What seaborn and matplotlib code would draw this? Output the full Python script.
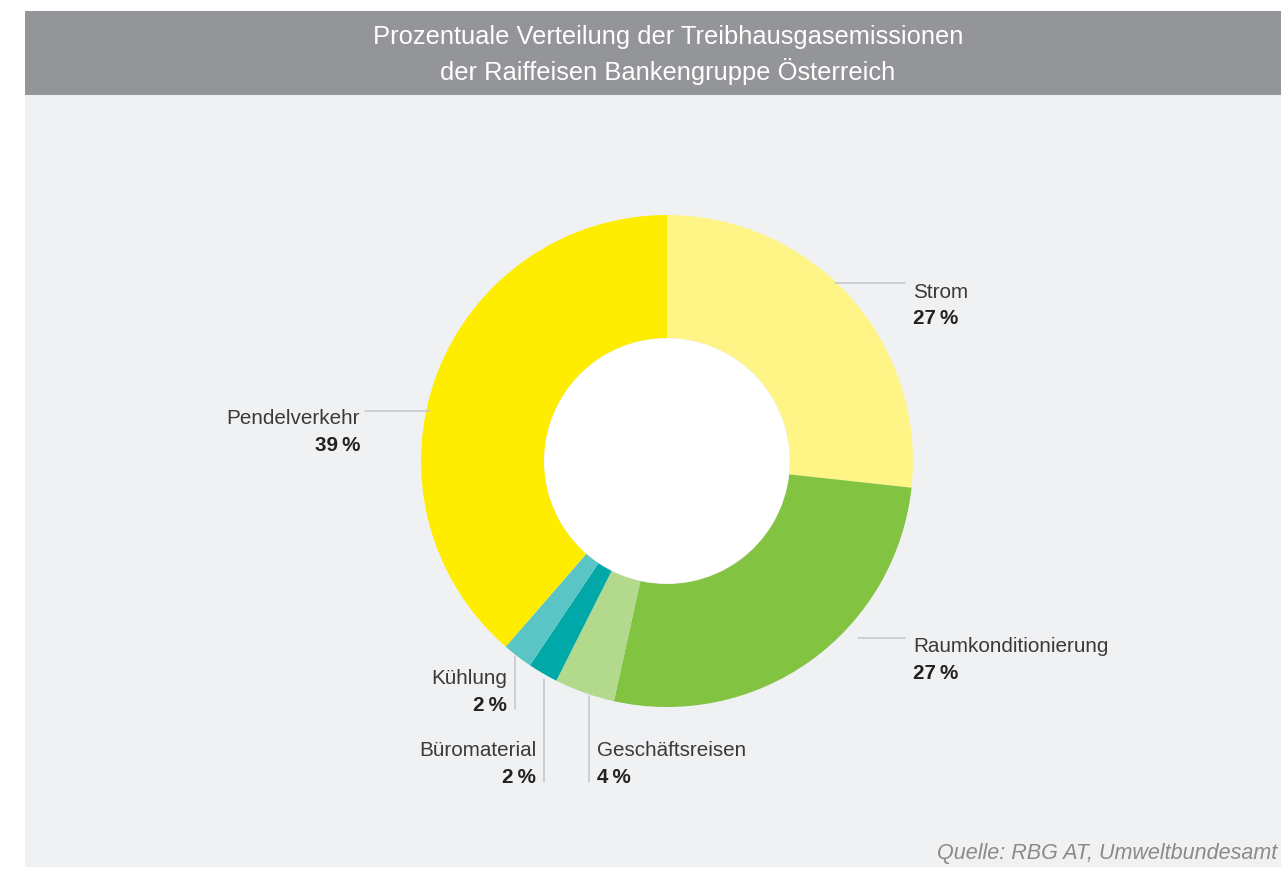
import matplotlib.pyplot as plt
import matplotlib.patches as mpatches
import numpy as np
import seaborn as sns

# Data
categories = ["Strom", "Raumkonditionierung", "Geschäftsreisen",
              "Büromaterial", "Kühlung", "Pendelverkehr"]
shares = [27, 27, 4, 2, 2, 39]
colors = ["#fff587", "#82c341", "#b3d98c", "#00a9a8", "#5bc5c6", "#ffed00"]

title = ("Prozentuale Verteilung der Treibhausgasemissionen\n"
         "der Raiffeisen Bankengruppe Österreich")
source = "Quelle: RBG AT, Umweltbundesamt"

# Layout (pixel coordinates, y measured from top)
W, H = 1281, 870
CX, CY, R = 667, 462, 246
RING = 0.50

# label anchor: (line start, line end, text x, text y, ha)
label_layout = {
    "Strom":               ((835, 284), (905, 284), 913, 292, "left"),
    "Raumkonditionierung": ((858, 639), (905, 639), 913, 647, "left"),
    "Geschäftsreisen":     ((589, 697), (589, 783), 597, 751, "left"),
    "Büromaterial":        ((544, 680), (544, 783), 536, 751, "right"),
    "Kühlung":             ((515, 657), (515, 710), 507, 679, "right"),
    "Pendelverkehr":       ((365, 412), (430, 412), 360, 419, "right"),
}

sns.set_theme(style="white")
plt.rcParams["font.family"] = ["Liberation Sans", "DejaVu Sans"]

fig = plt.figure(figsize=(W / 100, H / 100), dpi=100, facecolor="white")
ax = fig.add_axes([0, 0, 1, 1])


def py(y):
    return H - y


# background panel and title banner
ax.add_patch(mpatches.Rectangle((25, py(868)), W - 25, 868 - 96,
                                facecolor="#f0f1f3", edgecolor="none", zorder=0))
ax.add_patch(mpatches.Rectangle((25, py(96)), W - 25, 96 - 12,
                                facecolor="#939598", edgecolor="none", zorder=0))
ax.text(668, py(55), title, ha="center", va="center", color="white",
        fontsize=18.4, linespacing=1.42, zorder=3)

ax.pie(shares, colors=colors, startangle=90, counterclock=False,
       center=(CX, py(CY)), radius=R,
       wedgeprops=dict(width=R * RING, linewidth=0), frame=True)
# white donut hole
ax.add_patch(mpatches.Circle((CX, py(CY)), R * (1 - RING) - 0.5,
                             facecolor="white", edgecolor="none", zorder=2))

for cat, val in zip(categories, shares):
    (x0, y0), (x1, y1), tx, ty, ha = label_layout[cat]
    ax.plot([x0, x1], [py(y0), py(y1)], color="#c4c5c8", lw=1.1, zorder=1)
    ax.text(tx, py(ty), cat, ha=ha, va="center", color="#3a3a3a",
            fontsize=14.9, zorder=3)
    ax.text(tx, py(ty + 27), f"{val}\u2009%", ha=ha, va="center",
            color="#222222", fontsize=14.9, fontweight="bold", zorder=3)

ax.text(1277, py(854), source, ha="right", va="center", color="#8a8a8a",
        fontsize=15.5, style="italic", zorder=3)

ax.set_xlim(0, W)
ax.set_ylim(0, H)
ax.set_aspect("equal")
ax.axis("off")

fig.savefig("out.png", dpi=100, facecolor="white")
